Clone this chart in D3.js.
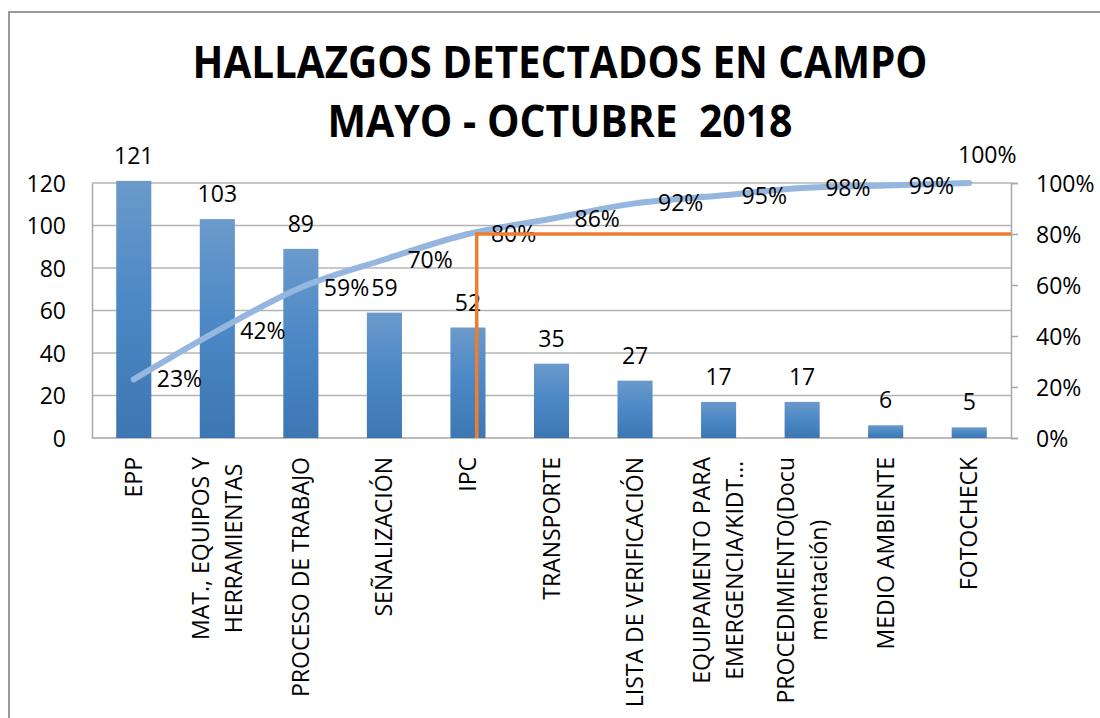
<!DOCTYPE html>
<html>
<head>
<meta charset="utf-8">
<script src="https://d3js.org/d3.v7.min.js"></script>
<style>
  body { margin:0; background:#fff; }
  text { font-family: "Open Sans", "DejaVu Sans", sans-serif; fill:#000; }
</style>
</head>
<body>
<svg id="chart" width="1100" height="718"></svg>
<script>
// data
var categories = ["EPP","MAT., EQUIPOS Y HERRAMIENTAS","PROCESO DE TRABAJO","SEÑALIZACIÓN","IPC",
                  "TRANSPORTE","LISTA DE VERIFICACIÓN","EQUIPAMENTO PARA EMERGENCIA/KIDT…",
                  "PROCEDIMIENTO(Documentación)","MEDIO AMBIENTE","FOTOCHECK"];
var labelLines = [["EPP"],["MAT., EQUIPOS Y","HERRAMIENTAS"],["PROCESO DE TRABAJO"],["SEÑALIZACIÓN"],["IPC"],
                  ["TRANSPORTE"],["LISTA DE VERIFICACIÓN"],["EQUIPAMENTO PARA","EMERGENCIA/KIDT…"],
                  ["PROCEDIMIENTO(Docu","mentación)"],["MEDIO AMBIENTE"],["FOTOCHECK"]];
var values = [121,103,89,59,52,35,27,17,17,6,5];
var cumPct = [23,42,59,70,80,86,92,95,98,99,100];
var leftTicks = [0,20,40,60,80,100,120];
var rightTicks = [0,20,40,60,80,100];
var titleLines = ["HALLAZGOS DETECTADOS EN CAMPO","MAYO - OCTUBRE  2018"];
var cutPct = 80, cutCategory = "IPC";

var svg = d3.select("#chart");
var plot = {left:92, right:1011, top:183, bottom:438};
var fs = "23px";

svg.append("rect").attr("width",1100).attr("height",718).attr("fill","#fff");
// outer frame of the chart object
svg.append("rect").attr("x",9).attr("y",12).attr("width",1100).attr("height",720)
   .attr("fill","none").attr("stroke","#999").attr("stroke-width",2);

var x = d3.scaleBand().domain(categories).range([plot.left, plot.right]).paddingInner(0.58).paddingOuter(0.29);
var y = d3.scaleLinear().domain([0,120]).range([plot.bottom, plot.top]);
var y2 = d3.scaleLinear().domain([0,100]).range([plot.bottom, plot.top]);
var cx = function(c){ return x(c) + x.bandwidth()/2; };

// gradient for the bars
var grad = svg.append("defs").append("linearGradient").attr("id","barGrad")
   .attr("x1",0).attr("y1",0).attr("x2",0).attr("y2",1);
grad.append("stop").attr("offset","0%").attr("stop-color","#6b9acb");
grad.append("stop").attr("offset","45%").attr("stop-color","#4d89c6");
grad.append("stop").attr("offset","100%").attr("stop-color","#3c77b3");

// gridlines
svg.append("g").selectAll("line").data(leftTicks.slice(1)).enter().append("line")
   .attr("x1",plot.left).attr("x2",plot.right)
   .attr("y1",function(d){return y(d);}).attr("y2",function(d){return y(d);})
   .attr("stroke","#b4b4b4").attr("stroke-width",1.3);

// left axis
var gl = svg.append("g").attr("transform","translate("+plot.left+",0)")
   .call(d3.axisLeft(y).tickValues(leftTicks).tickSize(0).tickPadding(26));
gl.select(".domain").attr("stroke","#a6a6a6").attr("stroke-width",1.5);
gl.selectAll("text").style("font-size",fs).attr("dy","0.36em");

// right axis
var gr = svg.append("g").attr("transform","translate("+plot.right+",0)")
   .call(d3.axisRight(y2).tickValues(rightTicks).tickSize(7).tickPadding(18).tickFormat(function(d){return d+"%";}));
gr.select(".domain").attr("stroke","#a6a6a6").attr("stroke-width",1.5);
gr.selectAll(".tick line").attr("stroke","#a6a6a6").attr("stroke-width",1.5);
gr.selectAll("text").style("font-size",fs).attr("dy","0.36em");

// bottom axis line
svg.append("line").attr("x1",plot.left).attr("x2",plot.right).attr("y1",plot.bottom).attr("y2",plot.bottom)
   .attr("stroke","#a6a6a6").attr("stroke-width",1.5);

// bars
svg.append("g").selectAll("rect").data(values).enter().append("rect")
   .attr("x",function(d,i){return x(categories[i]);})
   .attr("width",x.bandwidth())
   .attr("y",function(d){return y(d);})
   .attr("height",function(d){return plot.bottom - y(d);})
   .attr("fill","url(#barGrad)");

// cumulative line
var line = d3.line().x(function(d,i){return cx(categories[i]);}).y(function(d){return y2(d);})
   .curve(d3.curveMonotoneX);
svg.append("path").datum(cumPct).attr("d",line).attr("fill","none")
   .attr("stroke","#94b6df").attr("stroke-width",6).attr("stroke-linecap","round").attr("stroke-linejoin","round");

// bar value labels
svg.append("g").selectAll("text").data(values).enter().append("text")
   .attr("x",function(d,i){return cx(categories[i]);})
   .attr("y",function(d){return y(d) - 17;})
   .attr("text-anchor","middle").style("font-size",fs)
   .text(function(d){return d;});

// cumulative % labels
svg.append("g").selectAll("text").data(cumPct).enter().append("text")
   .attr("x",function(d,i){ return i == cumPct.length-1 ? cx(categories[i]) + 18 : cx(categories[i]) + 23; })
   .attr("y",function(d,i){ return i == cumPct.length-1 ? y2(d) - 20 : y2(d) + 8; })
   .attr("text-anchor",function(d,i){ return i == cumPct.length-1 ? "middle" : "start"; })
   .style("font-size",fs)
   .text(function(d){return d+"%";});

// category labels, rotated
var xl = svg.append("g");
labelLines.forEach(function(lines,i){
    var g = xl.append("g").attr("transform","translate("+cx(categories[i])+",457) rotate(-90)");
    var lineH = 33;
    var ts = lines.map(function(t,j){
        return g.append("text").style("font-size",fs).attr("text-anchor","middle")
            .attr("y",(j-(lines.length-1)/2)*lineH + 8).text(t);
    });
    var maxLen = d3.max(ts,function(t){return t.node().getComputedTextLength();});
    ts.forEach(function(t){ t.attr("x",-maxLen/2); });
});

// 80% cut line
var cutX = x(cutCategory) + x.bandwidth()*0.75;
svg.append("path")
   .attr("d","M"+cutX+","+plot.bottom+"V"+y2(cutPct)+"H"+plot.right)
   .attr("fill","none").attr("stroke","#ed7d31").attr("stroke-width",3.5);

// title
var targetW = [735,465];
titleLines.forEach(function(t,i){
    var tx = svg.append("text").attr("x",560).attr("y",[78,137][i]).attr("text-anchor","middle")
       .style("font-size","45px").style("font-weight","bold").style("white-space","pre").text(t);
    tx.attr("textLength",targetW[i]).attr("lengthAdjust","spacingAndGlyphs");
});
</script>
</body>
</html>
